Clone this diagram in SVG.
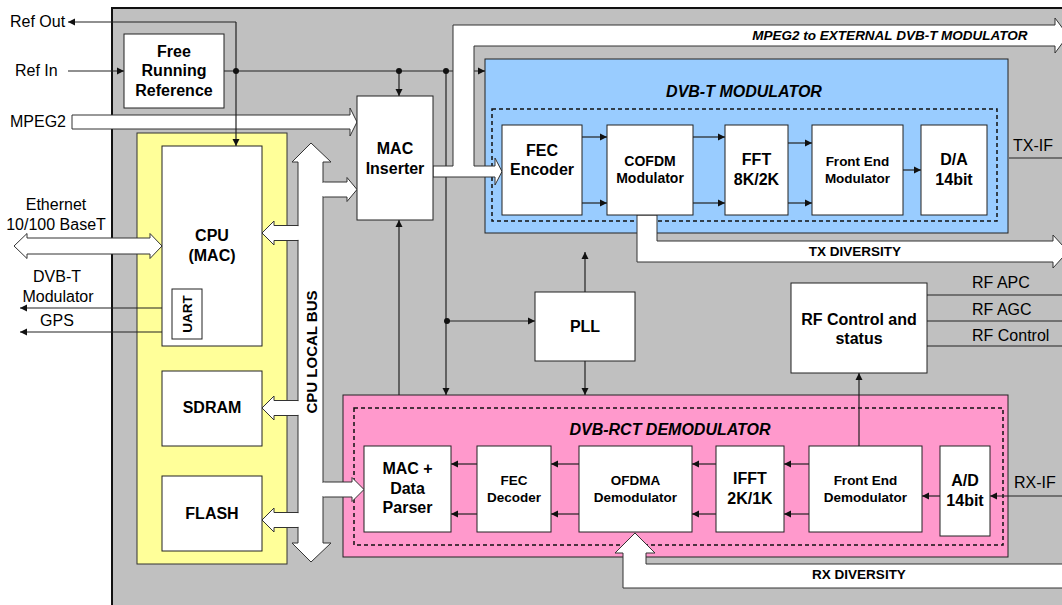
<svg xmlns="http://www.w3.org/2000/svg" width="1062" height="605" viewBox="0 0 1062 605">
<defs>
<marker id="ah" markerWidth="8" markerHeight="8" refX="7" refY="4" orient="auto" markerUnits="userSpaceOnUse"><path d="M0,0.5 L7,4 L0,7.5 z" fill="#111"/></marker>
</defs>
<style>
text{font-family:"Liberation Sans",Arial,sans-serif;fill:#000}
.r16{font-size:16px}
.b16{font-size:16px;font-weight:bold;text-anchor:middle}
.b14{font-size:14px;font-weight:bold;text-anchor:middle}
.b135{font-size:13.5px;font-weight:bold;text-anchor:middle}
.bi16{font-size:16px;font-weight:bold;font-style:italic;text-anchor:middle}
.bi135{font-size:13.5px;font-weight:bold;font-style:italic;text-anchor:middle}
.mid{text-anchor:middle}
.box{fill:#fff;stroke:#222;stroke-width:1}
.ln{fill:none;stroke:#222;stroke-width:1.2}
.ar{fill:none;stroke:#222;stroke-width:1.2;marker-end:url(#ah)}
.fat{fill:#fff;stroke:#333;stroke-width:1}
.cov{fill:#fff}
.dash{fill:none;stroke:#111;stroke-width:1.5;stroke-dasharray:4 3}
.dot{fill:#111}
</style>
<rect width="1062" height="605" fill="#fff"/>
<g id="chassis">
<rect x="112" y="8" width="960" height="610" fill="#C0C0C0" stroke="#111" stroke-width="2"/>
</g>
<g id="cpu-group">
<rect x="137" y="133" width="150" height="431" fill="#FFFF99" stroke="#333" stroke-width="1"/>
</g>
<g id="dvbt-modulator">
<rect x="485" y="59" width="523" height="174" fill="#99CCFF" stroke="#222" stroke-width="1"/>
<rect class="dash" x="492" y="109" width="505" height="112"/>
<text class="bi16" x="744" y="97">DVB-T MODULATOR</text>
</g>
<g id="dvbrct-demodulator">
<rect x="343" y="395" width="665" height="162" fill="#FF99CC" stroke="#222" stroke-width="1"/>
<rect class="dash" x="354" y="408" width="649" height="137"/>
<text class="bi16" x="670" y="435">DVB-RCT DEMODULATOR</text>
</g>
<g id="connectors">
<path class="ln" d="M224,71 H478"/>
<path class="ar" d="M478,71 H485"/>
<path class="ar" d="M399,71 V96"/>
<path class="ar" d="M446,71 V395"/>
<path class="ar" d="M447,321 H535"/>
<path class="ar" d="M399,395 V220"/>
<path class="ar" d="M585,292 V252"/>
<path class="ar" d="M585,361 V395"/>
<path class="ar" d="M859,446 V373"/>
<path class="ar" d="M68,71 H124"/>
<path class="ar" d="M172,308 H20"/>
<path class="ar" d="M172,332 H20"/>
<path class="ln" d="M1009,158 H1062"/>
<path class="ln" d="M927,295 H1062 M927,321 H1062 M927,346 H1062"/>
<path class="ar" d="M1062,496 H990"/>
<path class="ar" d="M582,137 H607"/><path class="ar" d="M582,203 H607"/>
<path class="ar" d="M693,137 H725"/><path class="ar" d="M693,203 H725"/>
<path class="ar" d="M788,143 H812"/><path class="ar" d="M788,203 H812"/>
<path class="ar" d="M903,170 H921"/>
<path class="ar" d="M940,496 H922"/>
<path class="ar" d="M809,464 H784"/><path class="ar" d="M809,514 H784"/>
<path class="ar" d="M716,464 H692"/><path class="ar" d="M716,514 H692"/>
<path class="ar" d="M579,464 H551"/><path class="ar" d="M579,514 H551"/>
<path class="ar" d="M477,464 H451"/><path class="ar" d="M477,514 H451"/>
<!-- fat arrows -->
<path class="fat" d="M72,115 H350 V108 L357,122 L350,136 V129 H72 Z"/>
<path class="fat" d="M14,246 L27,233.5 V238 H150 V233.5 L162,246 L150,258.5 V254 H27 V258.5 Z"/>
<path class="fat" d="M433,166 H453 V25 H1055 V18 L1068,35.5 L1055,53 V46 H474 V166 H495 V158 L502,171.5 L495,185 V177 H433 Z"/>
<path class="fat" d="M637,215 V262 H1053 V268 L1068,251.5 L1053,235 V241 H657 V215 Z"/>
<path class="fat" d="M635,533 L655,553 H646 V564 H1068 V588 H623 V553 H615 Z"/>
<path class="fat" d="M311,143 L331,162 H323 V543 H331 L311,562 L292,543 H298 V162 H292 Z"/>
<path class="fat" d="M323,182 H347 V177.5 L357,189.5 L347,201.5 V197 H323 Z"/>
<path class="fat" d="M323,482 H352 V477.5 L364,489.5 L352,501.5 V497 H323 Z"/>
<path class="fat" d="M298,225.5 H274 V221 L262,233 L274,245 V240.5 H298 Z"/>
<path class="fat" d="M298,400.5 H274 V396 L262,408 L274,420 V415.5 H298 Z"/>
<path class="fat" d="M298,512.5 H274 V508 L262,520 L274,532 V527.5 H298 Z"/>
<rect class="cov" x="321.5" y="182.6" width="3" height="13.8"/>
<rect class="cov" x="321.5" y="482.6" width="3" height="13.8"/>
<rect class="cov" x="296.5" y="226.1" width="3" height="13.8"/>
<rect class="cov" x="296.5" y="401.1" width="3" height="13.8"/>
<rect class="cov" x="296.5" y="513.1" width="3" height="13.8"/>
<path class="ar" d="M236,22 H68"/>
<path class="ar" d="M236,22 V146"/>
<circle class="dot" cx="236" cy="71" r="3"/>
<circle class="dot" cx="399" cy="71" r="3"/>
<circle class="dot" cx="446" cy="71" r="3"/>
<circle class="dot" cx="447" cy="321" r="3"/>
</g>
<g id="labels">
<text class="r16" x="10" y="27">Ref Out</text>
<text class="r16" x="15" y="76">Ref In</text>
<text class="r16" x="10" y="127">MPEG2</text>
<text class="r16 mid" x="56" y="210">Ethernet</text>
<text class="r16 mid" x="56" y="230">10/100 BaseT</text>
<text class="r16 mid" x="57" y="282">DVB-T</text>
<text class="r16 mid" x="58" y="302">Modulator</text>
<text class="r16 mid" x="57" y="326">GPS</text>
<text class="r16" x="1013" y="151">TX-IF</text>
<text class="r16" x="1014" y="488">RX-IF</text>
<text class="r16" x="972" y="288">RF APC</text>
<text class="r16" x="972" y="315">RF AGC</text>
<text class="r16" x="972" y="341">RF Control</text>
<text class="bi135" x="890" y="40">MPEG2 to EXTERNAL DVB-T MODULATOR</text>
<text class="b135" x="855" y="256">TX DIVERSITY</text>
<text class="b135" x="859" y="579">RX DIVERSITY</text>
<text class="b16" font-size="15" transform="rotate(-90 317 352)" x="317" y="352" style="font-size:15px">CPU LOCAL BUS</text>
</g>
<g id="free-running-reference">
<rect class="box" x="124" y="34" width="100" height="74"/>
<text class="b16" x="174" y="57">Free</text>
<text class="b16" x="174" y="76">Running</text>
<text class="b16" x="174" y="96">Reference</text>
</g>
<g id="mac-inserter">
<rect class="box" x="357" y="96" width="76" height="124"/>
<text class="b16" x="395" y="154">MAC</text>
<text class="b16" x="395" y="174">Inserter</text>
</g>
<g id="cpu">
<rect class="box" x="162" y="146" width="100" height="200"/>
<text class="b16" x="212" y="241">CPU</text>
<text class="b16" x="212" y="261">(MAC)</text>
</g>
<g id="uart">
<rect class="box" x="172" y="289" width="30" height="50"/>
<text class="b135" transform="rotate(-90 192 314)" x="192" y="314">UART</text>
</g>
<g id="sdram">
<rect class="box" x="162" y="371" width="100" height="75"/>
<text class="b16" x="212" y="413">SDRAM</text>
</g>
<g id="flash">
<rect class="box" x="162" y="476" width="100" height="75"/>
<text class="b16" x="212" y="519">FLASH</text>
</g>
<g id="fec-encoder">
<rect class="box" x="502" y="125" width="80" height="90"/>
<text class="b16" x="542" y="156">FEC</text>
<text class="b16" x="542" y="175">Encoder</text>
</g>
<g id="cofdm-modulator">
<rect class="box" x="607" y="125" width="86" height="90"/>
<text class="b14" x="650" y="166">COFDM</text>
<text class="b14" x="650" y="183">Modulator</text>
</g>
<g id="fft">
<rect class="box" x="725" y="125" width="63" height="90"/>
<text class="b16" x="756.5" y="165">FFT</text>
<text class="b16" x="756.5" y="185">8K/2K</text>
</g>
<g id="front-end-modulator">
<rect class="box" x="812" y="125" width="91" height="90"/>
<text class="b135" x="857.5" y="166">Front End</text>
<text class="b135" x="857.5" y="183">Modulator</text>
</g>
<g id="da">
<rect class="box" x="921" y="125" width="66" height="90"/>
<text class="b16" x="954" y="165">D/A</text>
<text class="b16" x="954" y="185">14bit</text>
</g>
<g id="pll">
<rect class="box" x="535" y="292" width="100" height="69"/>
<text class="b16" x="585" y="332">PLL</text>
</g>
<g id="rf-control">
<rect class="box" x="791" y="283" width="136" height="90"/>
<text class="b16" x="859" y="325">RF Control and</text>
<text class="b16" x="859" y="344">status</text>
</g>
<g id="mac-data-parser">
<rect class="box" x="364" y="446" width="87" height="86"/>
<text class="b16" x="407.5" y="474">MAC +</text>
<text class="b16" x="407.5" y="494">Data</text>
<text class="b16" x="407.5" y="513">Parser</text>
</g>
<g id="fec-decoder">
<rect class="box" x="477" y="446" width="74" height="86"/>
<text class="b135" x="514" y="485">FEC</text>
<text class="b135" x="514" y="502">Decoder</text>
</g>
<g id="ofdma-demodulator">
<rect class="box" x="579" y="446" width="113" height="86"/>
<text class="b135" x="635.5" y="485">OFDMA</text>
<text class="b135" x="635.5" y="502">Demodulator</text>
</g>
<g id="ifft">
<rect class="box" x="716" y="446" width="68" height="86"/>
<text class="b16" x="750" y="484">IFFT</text>
<text class="b16" x="750" y="504">2K/1K</text>
</g>
<g id="front-end-demodulator">
<rect class="box" x="809" y="446" width="113" height="86"/>
<text class="b135" x="865.5" y="485">Front End</text>
<text class="b135" x="865.5" y="502">Demodulator</text>
</g>
<g id="ad">
<rect class="box" x="940" y="446" width="50" height="90"/>
<text class="b16" x="965" y="486">A/D</text>
<text class="b16" x="965" y="506">14bit</text>
</g>
</svg>
